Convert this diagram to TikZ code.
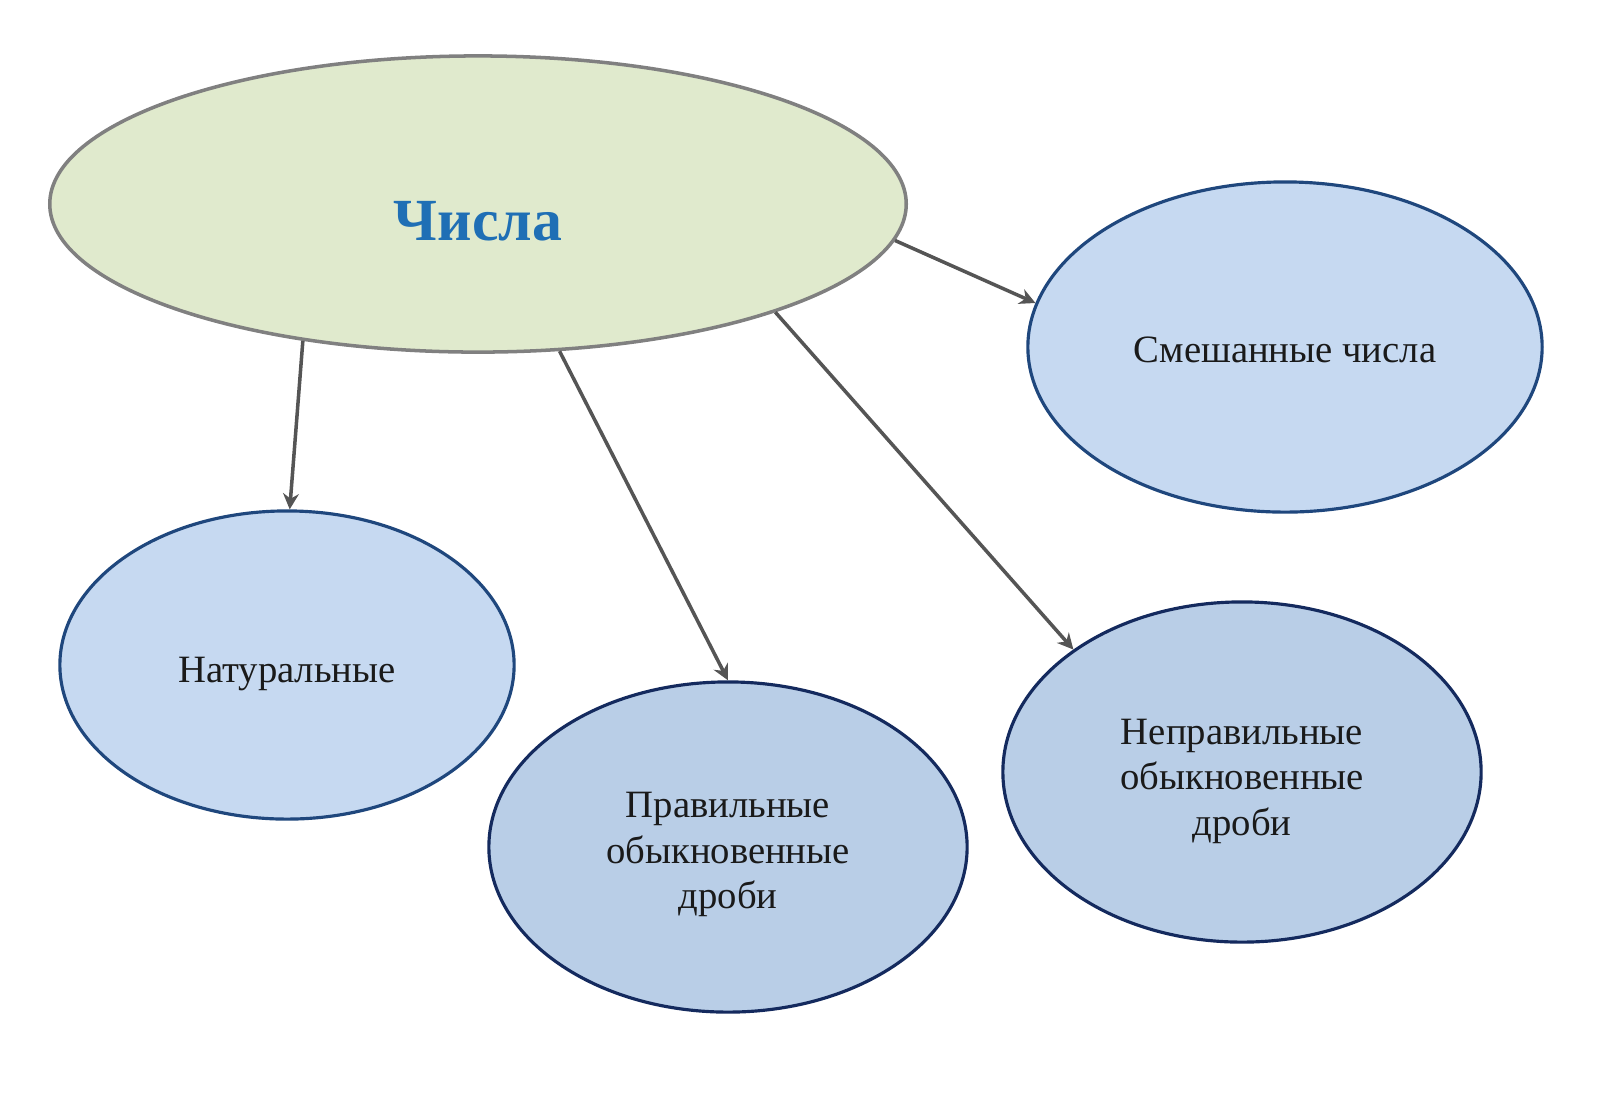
\documentclass[tikz,border=0pt]{standalone}
\usepackage{fontspec}
\setmainfont{Liberation Serif}
\usetikzlibrary{shapes.geometric,arrows.meta}
\definecolor{bigfill}{HTML}{E0EACD}
\definecolor{bigdraw}{HTML}{808080}
\definecolor{lightfill}{HTML}{C6D9F1}
\definecolor{lightdraw}{HTML}{1F477D}
\definecolor{darkfill}{HTML}{B9CEE7}
\definecolor{darkdraw}{HTML}{142A5E}
\definecolor{arrowc}{HTML}{555555}
\definecolor{titleblue}{HTML}{1F6FB5}
\definecolor{textc}{HTML}{1A1A1A}
\newcommand\lowertext[2]{\raisebox{-#1}[\height][\depth]{\begin{tabular}{@{}c@{}}#2\end{tabular}}}
\begin{document}
\begin{tikzpicture}[x=0.01cm,y=-0.01cm,
  oval/.style={ellipse,inner sep=0pt,line width=0.9pt,align=center,text=textc,font=\fontsize{11}{13}\selectfont},
  lightoval/.style={oval,fill=lightfill,draw=lightdraw},
  darkoval/.style={oval,fill=darkfill,draw=darkdraw},
  link/.style={draw=arrowc,line width=1pt,-{Stealth[length=4.5pt,width=4.5pt]}}]
\useasboundingbox (0,0) rectangle (1600,1114);
\node[ellipse,inner sep=0pt,fill=bigfill,draw=bigdraw,line width=1pt,minimum width=8.56cm,minimum height=2.96cm,text=titleblue,font=\fontsize{17}{20}\selectfont\bfseries] (big) at (478,204) {\lowertext{6.5pt}{Числа}};
\node[lightoval,minimum width=5.14cm,minimum height=3.30cm] (smesh) at (1285,347) {\lowertext{1.7pt}{Смешанные числа}};
\node[lightoval,minimum width=4.54cm,minimum height=3.08cm] (nat) at (287,665) {\lowertext{2.5pt}{Натуральные}};
\node[darkoval,minimum width=4.78cm,minimum height=3.30cm] (prav) at (728,847) {\lowertext{2pt}{Правильные\\обыкновенные\\дроби}};
\node[darkoval,minimum width=4.78cm,minimum height=3.40cm] (neprav) at (1242,772) {\lowertext{2.5pt}{Неправильные\\обыкновенные\\дроби}};
\draw[link] (big.218.4) -- (nat.89.6);
\draw[link] (big.299.9) -- (prav.90.3);
\draw[link] (big.340.7) -- (neprav.144.4);
\draw[link] (big.355.2) -- (smesh.170.5);
\end{tikzpicture}
\end{document}
